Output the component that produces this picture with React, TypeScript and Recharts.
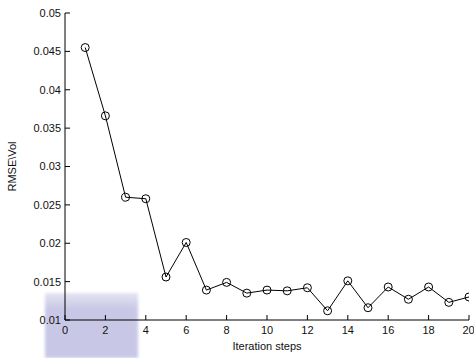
import {
  LineChart,
  Line,
  XAxis,
  YAxis,
} from "recharts";

const steps = [1, 2, 3, 4, 5, 6, 7, 8, 9, 10, 11, 12, 13, 14, 15, 16, 17, 18, 19, 20];
const rmseVol = [
  0.0455, 0.0366, 0.026, 0.0258, 0.0156, 0.0201, 0.0139, 0.0149, 0.0135, 0.0139,
  0.0138, 0.0142, 0.0112, 0.0151, 0.0116, 0.0143, 0.0127, 0.0143, 0.0123, 0.013,
];
const xTicks = [0, 2, 4, 6, 8, 10, 12, 14, 16, 18, 20];
const yTicks = [0.01, 0.015, 0.02, 0.025, 0.03, 0.035, 0.04, 0.045, 0.05];

const data = steps.map((s, i) => ({ step: s, value: rmseVol[i] }));

const font = { fontSize: 11, fill: "#111", fontFamily: "Liberation Sans, Arial, sans-serif" };

const App = () => {
  return (
    <div style={{ position: "absolute", left: 0, top: 0, width: 474, height: 358, background: "#fff" }}>
      <div
        style={{
          position: "absolute",
          left: 45,
          top: 293,
          width: 93,
          height: 65,
          background: "linear-gradient(#e4e4f2, #c8c8e6 25%, #c8c8e6)",
          filter: "blur(1.5px)",
        }}
      />
      <div style={{ position: "absolute", left: 0, top: 0 }}>
        <LineChart
          width={474}
          height={358}
          data={data}
          margin={{ top: 13, right: 5, bottom: 0, left: 0 }}
        >
          <XAxis
            xAxisId="b"
            dataKey="step"
            type="number"
            domain={[0, 20]}
            ticks={xTicks}
            allowDataOverflow
            height={38}
            tickSize={-5}
            tickMargin={11}
            stroke="#000"
            tick={font}
            label={{ value: "Iteration steps", position: "insideBottom", offset: 8, ...font }}
          />
          <XAxis
            xAxisId="t"
            orientation="top"
            dataKey="step"
            type="number"
            domain={[0, 20]}
            ticks={xTicks}
            height={0}
            tickSize={-5}
            tick={false}
            stroke="#000"
          />
          <YAxis
            yAxisId="l"
            type="number"
            domain={[0.01, 0.05]}
            ticks={yTicks}
            width={65}
            tickSize={-5}
            tickMargin={9}
            stroke="#000"
            tick={font}
            label={{ value: "RMSE\\Vol", angle: -90, position: "insideLeft", offset: 12, ...font, style: { textAnchor: "middle" } }}
          />
          <YAxis
            yAxisId="r"
            orientation="right"
            type="number"
            domain={[0.01, 0.05]}
            ticks={yTicks}
            width={0}
            tickSize={-5}
            tick={false}
            stroke="#000"
          />
          <Line
            xAxisId="b"
            yAxisId="l"
            type="linear"
            dataKey="value"
            stroke="#000"
            strokeWidth={1}
            dot={{ r: 4, stroke: "#000", strokeWidth: 1, fill: "none" }}
            isAnimationActive={false}
          />
        </LineChart>
      </div>
    </div>
  );
};

export default App;
